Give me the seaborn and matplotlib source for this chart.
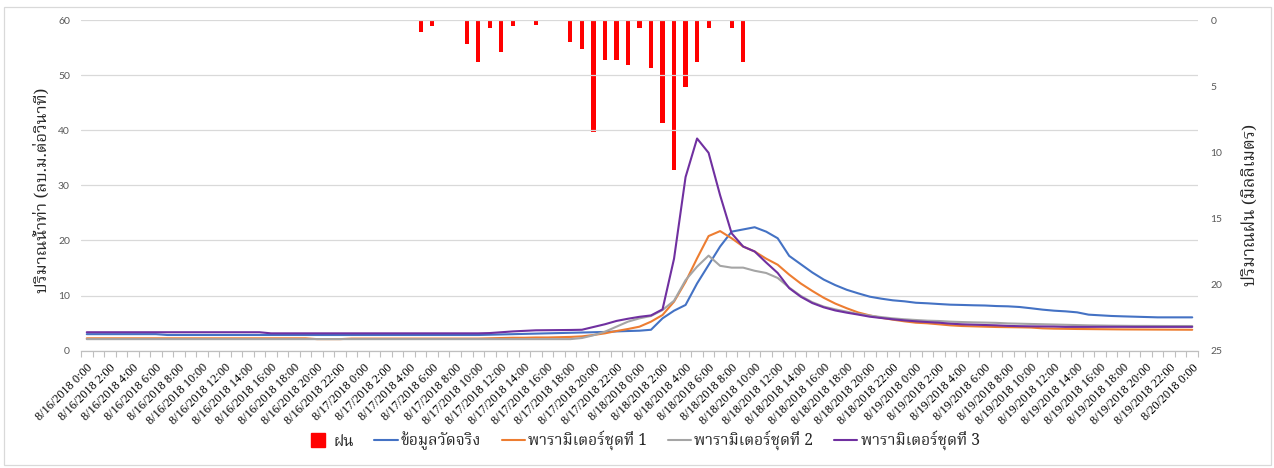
import matplotlib
matplotlib.use("Agg")
import matplotlib.pyplot as plt
from matplotlib import font_manager
from matplotlib.lines import Line2D
from matplotlib.patches import Rectangle
from matplotlib.ticker import FixedLocator
import numpy as np
import pandas as pd
import seaborn as sns

# ---------------------------------------------------------------- data
# hourly series, 8/16/2018 0:00 .. 8/20/2018 0:00 (97 steps)
start_time = "2018-08-16 00:00"
n_hours = 97

rain_mm = [0.0] * 29 + [
    0.9, 0.45, 0.0, 0.0, 1.85, 3.15, 0.6, 2.4, 0.45, 0.08, 0.4, 0.0, 0.08,
    1.65, 2.2, 8.5, 3.0, 3.05, 3.4, 0.6, 3.6, 7.75, 11.35, 5.05, 3.15, 0.6,
    0.0, 0.6, 3.15, 0.08,
] + [0.0] * 38

observed = [3.0] * 7 + [2.85] * 28 + [
    2.9, 2.95, 3.0, 3.05, 3.1, 3.15, 3.2, 3.25, 3.3, 3.35,
    3.4, 3.5, 3.57, 3.63, 3.8, 5.87, 7.26, 8.3, 12.2, 15.55, 18.9, 21.6, 22.0, 22.4,
    21.6, 20.4, 17.2, 15.7, 14.2, 12.9, 11.9, 11.05, 10.4, 9.8, 9.44, 9.14, 8.96,
    8.7, 8.6, 8.47, 8.35, 8.3, 8.24, 8.2, 8.1,
    8.05, 7.93, 7.7, 7.45, 7.26, 7.14, 6.96, 6.54, 6.42, 6.3, 6.23, 6.17, 6.11,
    6.05, 6.05, 6.05, 6.05,
]

param_set_1 = [2.25] * 20 + [2.1] * 3 + [2.2] * 12 + [
    2.25, 2.3, 2.35, 2.35, 2.4, 2.4, 2.45, 2.5, 2.6, 2.85,
    3.15, 3.57, 3.94, 4.36, 5.27, 6.48, 8.9, 12.5, 16.76, 20.8, 21.7, 20.4, 18.9, 18.0,
    16.7, 15.6, 13.8, 12.2, 10.85, 9.6, 8.55, 7.7, 6.93, 6.4, 5.97, 5.63, 5.33,
    5.08, 4.97, 4.79, 4.6, 4.48, 4.42, 4.36, 4.3,
    4.27, 4.24, 4.2, 4.06, 4.0, 3.97, 3.94, 3.92, 3.9, 3.88, 3.86, 3.85, 3.84,
    3.83, 3.82, 3.81, 3.8,
]

param_set_2 = [2.1] * 43 + [
    2.3, 2.8,
    3.45, 4.36, 5.27, 5.87, 6.3, 7.38, 9.07, 12.8, 15.25, 17.25, 15.4, 15.07, 15.07, 14.5,
    14.1, 13.2, 11.45, 9.95, 8.8, 8.0, 7.5, 7.08, 6.66, 6.36, 6.1, 5.87, 5.7,
    5.57, 5.45, 5.39, 5.27, 5.2, 5.14, 5.1, 5.05,
    4.95, 4.9, 4.85, 4.8, 4.75, 4.7, 4.65, 4.6, 4.57, 4.54, 4.52, 4.5, 4.5,
    4.49, 4.48, 4.48, 4.48,
]

param_set_3 = [3.35] * 16 + [3.15] * 19 + [
    3.2, 3.35, 3.5, 3.6, 3.7, 3.72, 3.74, 3.76, 3.8, 4.3,
    4.8, 5.4, 5.8, 6.15, 6.4, 7.5, 16.7, 31.5, 38.5, 35.9, 28.2, 21.3, 18.9, 18.0,
    16.0, 14.1, 11.35, 9.8, 8.65, 7.87, 7.3, 6.9, 6.55, 6.17, 5.93, 5.7, 5.5,
    5.33, 5.2, 5.08, 4.9, 4.79, 4.72, 4.66, 4.6,
    4.5, 4.45, 4.42, 4.4, 4.38, 4.32, 4.32, 4.32, 4.33, 4.33, 4.33, 4.32, 4.32,
    4.32, 4.32, 4.32, 4.32,
]

rain_label = "ฝน"
series_labels = ["ข้อมูลวัดจริง", "พารามิเตอร์ชุดที่ 1", "พารามิเตอร์ชุดที่ 2", "พารามิเตอร์ชุดที่ 3"]
series_colors = ["#4472C4", "#ED7D31", "#A5A5A5", "#7030A0"]
rain_color = "#FF0000"
left_ylabel = "ปริมาณน้ำท่า (ลบ.ม.ต่อวินาที)"
right_ylabel = "ปริมาณฝน (มิลลิเมตร)"

# ---------------------------------------------------------------- fonts
def pick_family(preferred):
    names = {f.name for f in font_manager.fontManager.ttflist}
    for p in preferred:
        if p in names:
            return p
    return "DejaVu Sans"

thai_family = pick_family(["Noto Serif Thai", "Taviraj", "Trirong", "Sarabun",
                           "Noto Sans Thai", "Athiti"])

# ---------------------------------------------------------------- frames
times = pd.date_range(start_time, periods=n_hours, freq="h")
tick_text = [f"{t.month}/{t.day}/{t.year} {t.hour}:00" for t in times]
idx = np.arange(n_hours)

lines_df = pd.DataFrame({
    "t": np.tile(idx, 4),
    "value": observed + param_set_1 + param_set_2 + param_set_3,
    "series": np.repeat(series_labels, n_hours),
})
rain_df = pd.DataFrame({"t": idx, "rain": rain_mm})

# ---------------------------------------------------------------- plot
sns.set_theme(style="white")
W, H = 1274, 468
fig = plt.figure(figsize=(W / 100, H / 100), dpi=100)
ax = fig.add_axes([81 / W, 1 - 350.7 / H, (1198 - 81) / W, (350.7 - 20) / H])
ax2 = ax.twinx()

# rainfall hangs from the top on an inverted secondary axis
sns.barplot(data=rain_df, x="t", y="rain", ax=ax2, native_scale=True,
            color=rain_color, width=0.36, saturation=1, linewidth=0)
ax2.set_ylim(25, 0)
ax2.set_yticks(np.arange(0, 26, 5))

# discharge lines on the primary axis
sns.lineplot(data=lines_df, x="t", y="value", hue="series", ax=ax,
             palette=series_colors, hue_order=series_labels,
             linewidth=1.5, legend=False)
ax.set_ylim(0, 60)
ax.set_yticks(np.arange(0, 61, 10))
ax.set_xlim(-0.5, n_hours - 0.5)

ax.set_zorder(ax2.get_zorder() + 1)
ax.patch.set_visible(False)

for a in (ax, ax2):
    for s in a.spines.values():
        s.set_visible(False)
    a.set_xlabel("")
    a.set_ylabel("")

ax.spines["bottom"].set_visible(True)
ax.spines["bottom"].set_color("#BFBFBF")
ax.spines["bottom"].set_linewidth(0.9)
ax.grid(axis="y", color="#D9D9D9", linewidth=0.9)
ax.set_axisbelow(True)
ax2.grid(False)

ax.xaxis.set_major_locator(FixedLocator(idx[::2]))
ax.set_xticklabels(tick_text[::2], rotation=45, ha="right",
                   rotation_mode="anchor", fontsize=8.8,
                   family="Liberation Serif", color="#000000")
ax.xaxis.set_minor_locator(FixedLocator(np.arange(-0.5, n_hours, 1.0)))
ax.tick_params(axis="x", which="major", length=0, pad=8)
ax.tick_params(axis="x", which="minor", length=4.5, width=0.8, color="#BFBFBF",
               bottom=True)
ax.tick_params(axis="y", length=0, pad=8, labelsize=7.5, labelcolor="#595959")
ax2.tick_params(axis="y", length=0, pad=9, labelsize=7.5, labelcolor="#595959")
for lab in ax.get_yticklabels() + ax2.get_yticklabels():
    lab.set_family("Lato")

fig.text(42 / W, 1 - 190 / H, left_ylabel, rotation=90, ha="center",
         va="center", family=thai_family, fontsize=12)
fig.text(1250 / W, 1 - 205 / H, right_ylabel, rotation=90, ha="center",
         va="center", family=thai_family, fontsize=12.3)

handles = [Line2D([], [], marker="s", markersize=10, linestyle="none",
                  color=rain_color)] + [
    Line2D([], [], color=c, linewidth=1.5) for c in series_colors]
fig.legend(handles, [rain_label] + series_labels, loc="center",
           bbox_to_anchor=(643 / W, 1 - 441 / H), ncol=5, frameon=False,
           prop={"family": thai_family, "size": 11.3}, handlelength=1.5,
           handletextpad=0.2, columnspacing=1.3)

fig.patches.append(Rectangle((4 / W, 1 - 465 / H), (1271 - 4) / W, (465 - 7) / H,
                             transform=fig.transFigure, fill=False,
                             edgecolor="#D9D9D9", linewidth=0.9))

fig.savefig("out.png", dpi=100)
